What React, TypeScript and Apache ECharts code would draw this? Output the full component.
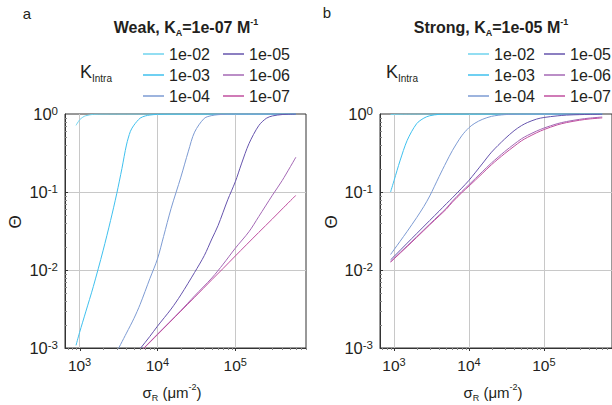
import React, { useEffect, useRef } from 'react';
import * as echarts from 'echarts';

// ---------- data ----------
const kIntraNames = ['1e-02', '1e-03', '1e-04', '1e-05', '1e-06', '1e-07'];
const lineColors = ['#6fd3ee', '#3fc0ee', '#7d9bd3', '#6654ad', '#a468b5', '#c04f9f'];

// Panel a: Weak, K_A = 1e-07 M^-1   ([sigma_R, theta])
const weak_1e02 = [[900, 0.715], [1000, 0.84], [1100, 0.91], [1200, 0.95], [1500, 0.99], [2000, 0.998], [3000, 1], [10000, 1], [100000, 1], [600000, 1]];
const weak_1e03 = [[900, 0.00108], [1000, 0.00158], [1200, 0.0029], [1500, 0.0061], [2000, 0.0176], [2500, 0.043], [3000, 0.095], [3500, 0.2], [4000, 0.4], [4500, 0.6], [5000, 0.72], [6000, 0.885], [7000, 0.945], [8000, 0.97], [10000, 0.99], [15000, 0.999], [30000, 1], [600000, 1]];
const weak_1e04 = [[3000, 0.00089], [4000, 0.00155], [5000, 0.0024], [6000, 0.00363], [8000, 0.00776], [10000, 0.0138], [12000, 0.0269], [15000, 0.0617], [20000, 0.155], [25000, 0.334], [30000, 0.585], [40000, 0.88], [50000, 0.955], [60000, 0.98], [80000, 0.995], [100000, 1], [600000, 1]];
const weak_1e05 = [[5000, 0.00079], [6000, 0.00098], [8000, 0.00141], [10000, 0.0019], [15000, 0.00316], [20000, 0.0048], [30000, 0.0093], [40000, 0.0153], [50000, 0.025], [60000, 0.037], [80000, 0.0794], [100000, 0.135], [120000, 0.229], [150000, 0.417], [200000, 0.708], [250000, 0.88], [300000, 0.944], [400000, 0.984], [600000, 0.998]];
const weak_1e06 = [[5000, 0.00074], [10000, 0.0015], [20000, 0.00302], [30000, 0.00465], [50000, 0.0079], [70000, 0.0119], [100000, 0.019], [150000, 0.031], [200000, 0.0483], [300000, 0.091], [400000, 0.14], [600000, 0.279]];
const weak_1e07 = [[5000, 0.00074], [10000, 0.00148], [20000, 0.00297], [30000, 0.00447], [50000, 0.0075], [70000, 0.0105], [100000, 0.0151], [200000, 0.0303], [300000, 0.0452], [400000, 0.0605], [600000, 0.0906]];

// Panel b: Strong, K_A = 1e-05 M^-1
const strong_1e02 = [[900, 0.985], [1000, 0.99], [1200, 0.995], [1500, 0.998], [2000, 1], [600000, 1]];
const strong_1e03 = [[900, 0.1], [1000, 0.14], [1100, 0.19], [1200, 0.25], [1500, 0.46], [2000, 0.75], [2500, 0.885], [3000, 0.95], [4000, 0.99], [5000, 0.996], [10000, 1], [600000, 1]];
const strong_1e04 = [[900, 0.0158], [1000, 0.0182], [1200, 0.0232], [1500, 0.0313], [2000, 0.0468], [2500, 0.0653], [3000, 0.0891], [4000, 0.158], [5000, 0.243], [6000, 0.339], [8000, 0.525], [10000, 0.668], [12000, 0.762], [15000, 0.851], [20000, 0.933], [30000, 0.982], [50000, 0.996], [100000, 1], [600000, 1]];
const strong_1e05 = [[900, 0.0135], [1000, 0.0149], [1500, 0.0221], [2000, 0.0292], [3000, 0.0432], [4000, 0.0569], [5000, 0.0708], [6000, 0.0841], [8000, 0.112], [10000, 0.141], [15000, 0.229], [20000, 0.324], [30000, 0.479], [40000, 0.61], [50000, 0.708], [60000, 0.776], [80000, 0.861], [100000, 0.902], [150000, 0.946], [200000, 0.968], [300000, 0.982], [400000, 0.988], [600000, 0.993]];
const strong_1e06 = [[900, 0.0127], [1000, 0.0141], [1500, 0.0204], [2000, 0.0266], [3000, 0.0388], [4000, 0.0505], [5000, 0.062], [6000, 0.0762], [8000, 0.101], [10000, 0.124], [15000, 0.181], [20000, 0.236], [30000, 0.33], [40000, 0.41], [50000, 0.48], [60000, 0.53], [80000, 0.605], [100000, 0.66], [150000, 0.75], [200000, 0.8], [300000, 0.855], [400000, 0.885], [600000, 0.915]];
const strong_1e07 = [[900, 0.0126], [1000, 0.0139], [1500, 0.02], [2000, 0.0261], [3000, 0.038], [4000, 0.0493], [5000, 0.0605], [6000, 0.074], [8000, 0.0977], [10000, 0.119], [15000, 0.172], [20000, 0.224], [30000, 0.311], [40000, 0.385], [50000, 0.452], [60000, 0.5], [80000, 0.575], [100000, 0.631], [150000, 0.724], [200000, 0.776], [300000, 0.832], [400000, 0.863], [600000, 0.891]];

const weakSeries = [weak_1e02, weak_1e03, weak_1e04, weak_1e05, weak_1e06, weak_1e07];
const strongSeries = [strong_1e02, strong_1e03, strong_1e04, strong_1e05, strong_1e06, strong_1e07];

// axis ranges and tick values
const X_MIN = 650;
const X_MAX = 810000;
const Y_MIN = 0.001;
const Y_MAX = 1;
const xMajorTicks = [1000, 10000, 100000];
const xMinorTicks = [700, 800, 900, 2000, 3000, 4000, 5000, 6000, 7000, 8000, 9000, 20000, 30000, 40000, 50000, 60000, 70000, 80000, 90000, 200000, 300000, 400000, 500000, 600000, 700000, 800000];
const yMajorTicks = [0.01, 0.1];
const yMinorTicks = [0.002, 0.003, 0.004, 0.005, 0.006, 0.007, 0.008, 0.009, 0.02, 0.03, 0.04, 0.05, 0.06, 0.07, 0.08, 0.09, 0.2, 0.3, 0.4, 0.5, 0.6, 0.7, 0.8, 0.9];

const FONT = '"Liberation Sans", Arial, Helvetica, sans-serif';
const TXT = '#231f20';

function decadeLabel(v: number) {
  const l = Math.log10(v);
  const e = Math.round(l);
  if (Math.abs(l - e) > 1e-6) return '';
  return '10{sup|' + e + '}';
}

function labelRich(size: number) {
  return { sup: { fontSize: size, lineHeight: size, verticalAlign: 'top', color: TXT, fontFamily: FONT } };
}

function xAxisFor(g: number) {
  return {
    type: 'log', logBase: 10, gridIndex: g, min: X_MIN, max: X_MAX,
    axisLine: { show: true, lineStyle: { color: '#333', width: 1 } },
    axisTick: { show: false },
    splitLine: { show: true, showMinLine: false, showMaxLine: false, lineStyle: { color: '#c8c8c8', width: 1 } },
    axisLabel: { formatter: decadeLabel, rich: labelRich(11), fontSize: 15.5, lineHeight: 19, color: TXT, fontFamily: FONT, margin: 8, showMinLabel: false, showMaxLabel: false },
  };
}
function yAxisFor(g: number) {
  return {
    type: 'log', logBase: 10, gridIndex: g, min: Y_MIN, max: Y_MAX,
    axisLine: { show: true, lineStyle: { color: '#333', width: 1 } },
    axisTick: { show: false },
    splitLine: { show: true, showMinLine: false, showMaxLine: false, lineStyle: { color: '#c8c8c8', width: 1 } },
    axisLabel: { formatter: decadeLabel, rich: labelRich(11.5), fontSize: 16.5, lineHeight: 19, color: TXT, fontFamily: FONT, margin: 7 },
  };
}

function xTicks(g: number, values: number[], len: number, color: string) {
  return {
    type: 'custom', xAxisIndex: g, yAxisIndex: g, silent: true, z: 6, clip: false,
    data: values.map((v) => [v, Y_MIN]),
    renderItem: (_p: any, api: any) => {
      const p = api.coord([api.value(0), api.value(1)]);
      const x = Math.round(p[0]) + 0.5;
      return { type: 'line', shape: { x1: x, y1: p[1], x2: x, y2: p[1] + len }, style: { stroke: color, lineWidth: 1 } };
    },
  };
}
function yTicks(g: number, values: number[], len: number, color: string) {
  return {
    type: 'custom', xAxisIndex: g, yAxisIndex: g, silent: true, z: 6, clip: false,
    data: values.map((v) => [X_MIN, v]),
    renderItem: (_p: any, api: any) => {
      const p = api.coord([api.value(0), api.value(1)]);
      const y = Math.round(p[1]) + 0.5;
      return { type: 'line', shape: { x1: p[0], y1: y, x2: p[0] + len, y2: y }, style: { stroke: color, lineWidth: 1 } };
    },
  };
}

function lineSeries(g: number, sets: number[][][]) {
  return sets.map((d, i) => ({
    type: 'line', name: kIntraNames[i], xAxisIndex: g, yAxisIndex: g, data: d,
    showSymbol: false, symbol: 'none', smooth: 0.3, clip: true, z: 3,
    lineStyle: { width: 1, color: lineColors[i] }, itemStyle: { color: lineColors[i] },
  }));
}

const legendBase = {
  orient: 'vertical', icon: 'rect', itemWidth: 21, itemHeight: 1.5, itemGap: 5, padding: 0,
  selectedMode: false,
  textStyle: { fontSize: 16, color: TXT, fontFamily: FONT },
};

function txt(x: number, y: number, text: string, size: number, extra: any = {}) {
  return {
    type: 'text', x, y, ...extra,
    style: { text, fontSize: size, fontFamily: FONT, fill: TXT, align: 'center', verticalAlign: 'middle', ...(extra.style || {}) },
  };
}

function titleText(x: number, label: string, ka: string) {
  return {
    type: 'text', x, y: 27,
    style: {
      text: '{b|' + label + ', K}{bs|A}{b|=' + ka + ' M}{sp|-1}',
      align: 'center', verticalAlign: 'middle', fill: TXT, fontFamily: FONT,
      rich: {
        b: { fontSize: 16, fontWeight: 'bold', fontFamily: FONT, fill: TXT, lineHeight: 20, verticalAlign: 'middle' },
        bs: { fontSize: 9, fontWeight: 'bold', fontFamily: FONT, fill: TXT, lineHeight: 9, verticalAlign: 'bottom' },
        sp: { fontSize: 9, fontWeight: 'bold', fontFamily: FONT, fill: TXT, lineHeight: 9, verticalAlign: 'top' },
      },
    },
  };
}

function kIntra(x: number) {
  return {
    type: 'text', x, y: 72,
    style: {
      text: '{k|K}{s|Intra}', align: 'left', verticalAlign: 'middle', fill: TXT, fontFamily: FONT,
      rich: {
        k: { fontSize: 18, fontFamily: FONT, fill: TXT, lineHeight: 22, verticalAlign: 'middle' },
        s: { fontSize: 10, fontFamily: FONT, fill: TXT, lineHeight: 10, verticalAlign: 'bottom' },
      },
    },
  };
}

function xName(x: number) {
  return {
    type: 'text', x, y: 392,
    style: {
      text: '{m|σ}{s|R}{m| (μm}{p|-2}{m|)}', align: 'center', verticalAlign: 'middle', fill: TXT, fontFamily: FONT,
      rich: {
        m: { fontSize: 15, fontFamily: FONT, fill: TXT, lineHeight: 20, verticalAlign: 'middle' },
        s: { fontSize: 9, fontFamily: FONT, fill: TXT, lineHeight: 9, verticalAlign: 'bottom' },
        p: { fontSize: 9, fontFamily: FONT, fill: TXT, lineHeight: 9, verticalAlign: 'top' },
      },
    },
  };
}

export default function App() {
  const ref = useRef<HTMLDivElement>(null);
  useEffect(() => {
    document.body.style.margin = '0';
    if (!ref.current) return;
    const chart = echarts.init(ref.current, undefined, { renderer: 'svg' });
    const option: any = {
      animation: false,
      backgroundColor: '#ffffff',
      textStyle: { fontFamily: FONT },
      grid: [
        { left: 65, top: 114, width: 241, height: 234, show: true, borderColor: '#333', borderWidth: 1, backgroundColor: 'transparent' },
        { left: 380, top: 114, width: 241, height: 234, show: true, borderColor: '#333', borderWidth: 1, backgroundColor: 'transparent' },
      ],
      xAxis: [xAxisFor(0), xAxisFor(1)],
      yAxis: [yAxisFor(0), yAxisFor(1)],
      legend: [
        { ...legendBase, left: 143, top: 46, data: kIntraNames.slice(0, 3) },
        { ...legendBase, left: 223, top: 46, data: kIntraNames.slice(3) },
        { ...legendBase, left: 468, top: 46, data: kIntraNames.slice(0, 3) },
        { ...legendBase, left: 544, top: 46, data: kIntraNames.slice(3) },
      ],
      graphic: [
        txt(27, 13, 'a', 15),
        txt(327, 12, 'b', 15),
        titleText(186, 'Weak', '1e-07'),
        titleText(491, 'Strong', '1e-05'),
        kIntra(80),
        kIntra(386),
        txt(15, 222, 'Θ', 17, { rotation: Math.PI / 2 }),
        txt(331, 222, 'Θ', 17, { rotation: Math.PI / 2 }),
        xName(172),
        xName(493),
      ],
      series: [
        ...lineSeries(0, weakSeries),
        ...lineSeries(1, strongSeries),
        xTicks(0, xMinorTicks, 2, '#888'),
        xTicks(0, xMajorTicks, 3, '#333'),
        yTicks(0, yMinorTicks, 2, '#888'),
        yTicks(0, yMajorTicks, 3, '#333'),
        xTicks(1, xMinorTicks, 2, '#888'),
        xTicks(1, xMajorTicks, 3, '#333'),
        yTicks(1, yMinorTicks, 2, '#888'),
        yTicks(1, yMajorTicks, 3, '#333'),
      ],
    };
    chart.setOption(option);
    return () => chart.dispose();
  }, []);
  return <div ref={ref} style={{ width: 612, height: 405 }} />;
}
